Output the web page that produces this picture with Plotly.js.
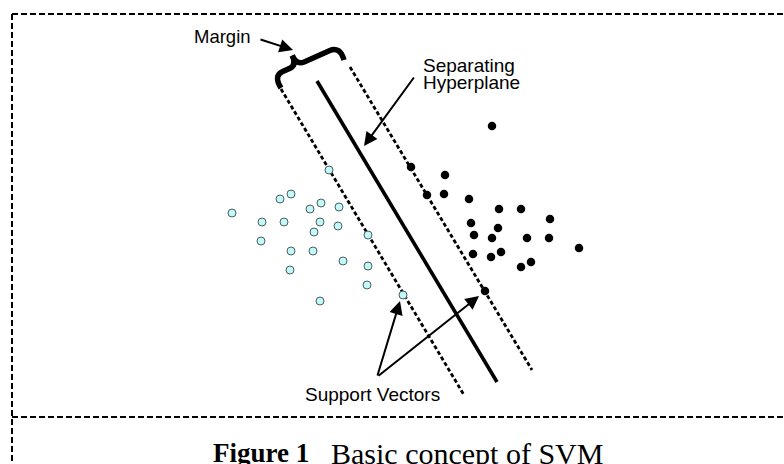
<!DOCTYPE html>
<html>
<head>
<meta charset="utf-8">
<script src="https://cdn.plot.ly/plotly-3.0.1.min.js"></script>
<style>html,body{margin:0;padding:0;background:#fff;}#chart{width:784px;height:464px;}</style>
</head>
<body>
<div id="chart"></div>
<script>
// Class A (open circles)
const classAX = [232, 280, 291, 310, 321, 339, 329, 262, 284, 320, 338, 314, 368, 261, 291, 313, 343, 368, 290, 367, 320, 403];
const classAY = [213, 199, 194, 209, 203, 207, 170, 222, 222, 222, 226, 232, 235, 241, 251, 251, 261, 266, 270, 285, 301, 295];
// Class B (filled circles)
const classBX = [492, 411, 445, 427, 444, 469, 499, 521, 550, 471, 498, 474, 492, 527, 549, 579, 473, 491, 501, 521, 531, 485];
const classBY = [126, 167, 175, 195, 194, 199, 209, 209, 219, 223, 228, 235, 238, 238, 238, 248, 254, 257, 252, 267, 262, 291];
// Separating hyperplane and margin boundaries (endpoints)
const hyperX = [317, 497];
const hyperY = [81, 382];
const marginLeftX = [281, 464];
const marginLeftY = [89, 395];
const marginRightX = [350, 532];
const marginRightY = [67, 370];
// Labels
const labelMargin = 'Margin';
const labelSep1 = 'Separating';
const labelSep2 = 'Hyperplane';
const labelSV = 'Support Vectors';
const captionBold = 'Figure 1';
const captionText = 'Basic concept of SVM';

const traces = [
  {x: hyperX, y: hyperY, mode: 'lines', line: {color: '#000', width: 3.6}, hoverinfo: 'skip'},
  {x: marginLeftX, y: marginLeftY, mode: 'lines', line: {color: '#000', width: 2.8, dash: '4px,2.5px'}, hoverinfo: 'skip'},
  {x: marginRightX, y: marginRightY, mode: 'lines', line: {color: '#000', width: 2.8, dash: '4px,2.5px'}, hoverinfo: 'skip'},
  {x: classAX, y: classAY, mode: 'markers', marker: {size: 8, color: '#c4f7f7', line: {color: '#4a6060', width: 1}}},
  {x: classBX, y: classBY, mode: 'markers', marker: {size: 8.5, color: '#000', line: {width: 0}}}
];

// brace path helper (between two end points, bulging along normal)
function bracePath(ax, ay, bx, by, h, c) {
  const dx = bx - ax, dy = by - ay, L = Math.hypot(dx, dy);
  const ux = dx / L, uy = dy / L;
  const nx = uy, ny = -ux; // normal pointing up-left
  const P = (s, t) => (ax + ux * s * L + nx * t * h).toFixed(2) + ',' + (ay + uy * s * L + ny * t * h).toFixed(2);
  return 'M' + P(0, 0) +
    ' Q' + P(-0.03, 0.6) + ' ' + P(0.12, 0.6) +
    ' L' + P(c - 0.1, 0.6) +
    ' Q' + P(c, 0.6) + ' ' + P(c, 1.05) +
    ' Q' + P(c, 0.6) + ' ' + P(c + 0.12, 0.6) +
    ' L' + P(0.86, 0.6) +
    ' Q' + P(1.03, 0.6) + ' ' + P(1, 0);
}

const dashBorder = {color: '#000', width: 2, dash: '6px,3px'};
const shapes = [
  {type: 'line', xref: 'x', yref: 'y', x0: 12, y0: 14, x1: 784, y1: 14, line: dashBorder},
  {type: 'line', xref: 'x', yref: 'y', x0: 12, y0: 14, x1: 12, y1: 464, line: dashBorder},
  {type: 'line', xref: 'x', yref: 'y', x0: 12, y0: 417, x1: 784, y1: 417, line: dashBorder},
  {type: 'path', xref: 'x', yref: 'y', path: bracePath(281, 88, 344, 60, 24, 0.34), line: {color: '#000', width: 5.5}}
];

const sans = 'Liberation Sans, Arial, sans-serif';
const serif = 'Liberation Serif, Times New Roman, serif';
const arrowBase = {text: '', showarrow: true, arrowhead: 2, arrowsize: 1.35, arrowwidth: 2, arrowcolor: '#000', axref: 'x', ayref: 'y', standoff: 0, startstandoff: 0};
const annotations = [
  {x: 192, y: 36, xanchor: 'left', yanchor: 'middle', text: labelMargin, showarrow: false, font: {family: sans, size: 18.5, color: '#000'}},
  {x: 421, y: 65, xanchor: 'left', yanchor: 'middle', text: labelSep1, showarrow: false, font: {family: sans, size: 19, color: '#000'}},
  {x: 421, y: 82, xanchor: 'left', yanchor: 'middle', text: labelSep2, showarrow: false, font: {family: sans, size: 19, color: '#000'}},
  {x: 372, y: 394, xanchor: 'center', yanchor: 'middle', text: labelSV, showarrow: false, font: {family: sans, size: 19, color: '#000'}},
  {x: 211, y: 453, xanchor: 'left', yanchor: 'middle', text: '<b>' + captionBold + '</b>', showarrow: false, font: {family: serif, size: 27, color: '#000'}},
  {x: 329, y: 453, xanchor: 'left', yanchor: 'middle', text: captionText, showarrow: false, font: {family: serif, size: 30, color: '#000'}},
  Object.assign({}, arrowBase, {x: 293, y: 50, ax: 259, ay: 39}),
  Object.assign({}, arrowBase, {x: 364, y: 146, ax: 415, ay: 76}),
  Object.assign({}, arrowBase, {x: 400, y: 301, ax: 377, ay: 377}),
  Object.assign({}, arrowBase, {x: 479, y: 296, ax: 377, ay: 377})
];

const layout = {
  width: 784, height: 464,
  margin: {l: 0, r: 0, t: 0, b: 0, pad: 0},
  paper_bgcolor: '#fff', plot_bgcolor: '#fff',
  showlegend: false,
  xaxis: {range: [0, 784], visible: false, fixedrange: true},
  yaxis: {range: [464, 0], visible: false, fixedrange: true},
  shapes: shapes,
  annotations: annotations
};

Plotly.newPlot('chart', traces, layout, {staticPlot: true, displayModeBar: false});
</script>
</body>
</html>
